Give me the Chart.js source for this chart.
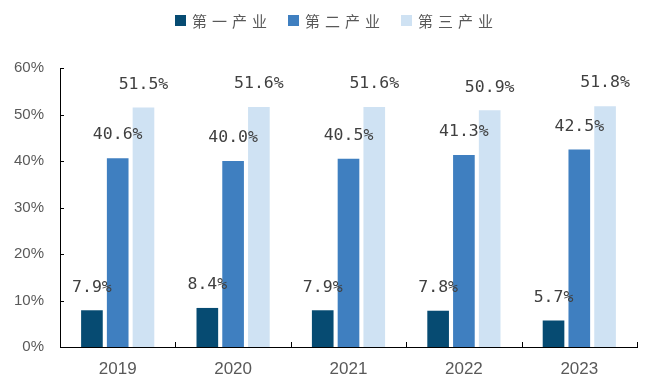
<!DOCTYPE html>
<html>
<head>
<meta charset="utf-8">
<script src="https://cdn.jsdelivr.net/npm/chart.js@4/dist/chart.umd.min.js"></script>
<style>
  html, body { margin: 0; padding: 0; background: #fff; }
  #wrap { position: relative; width: 651px; height: 383px; }
  #legend { position: absolute; top: 9px; left: 0; width: 651px; height: 22px; }
  .item { position: absolute; top: 0; height: 22px; display: flex; align-items: center;
          font-family: "Noto Sans CJK SC", sans-serif; font-size: 15px; color: #595959;
          letter-spacing: 5px; white-space: nowrap; }
  .sw { width: 11px; height: 11px; margin-right: 6px; }
</style>
</head>
<body>
<div id="wrap">
  <canvas id="c" width="651" height="383"></canvas>
  <div id="legend"></div>
</div>
<script>
// 三次产业增加值占比（%）
const years = ['2019', '2020', '2021', '2022', '2023'];
const seriesNames = ['第一产业', '第二产业', '第三产业'];
const primary = [7.9, 8.4, 7.9, 7.8, 5.7];
const secondary = [40.6, 40.0, 40.5, 41.3, 42.5];
const tertiary = [51.5, 51.6, 51.6, 50.9, 51.8];
const colors = ['#064b72', '#3f7fc0', '#cfe2f3'];

const legendX = [175, 288, 401];
const legendEl = document.getElementById('legend');
seriesNames.forEach((name, i) => {
  const it = document.createElement('div');
  it.className = 'item';
  it.style.left = legendX[i] + 'px';
  const sw = document.createElement('span');
  sw.className = 'sw';
  sw.style.background = colors[i];
  it.appendChild(sw);
  it.appendChild(document.createTextNode(name));
  legendEl.appendChild(it);
});

// value labels above each bar
const valueLabels = {
  id: 'valueLabels',
  afterDatasetsDraw(chart) {
    const ctx = chart.ctx;
    ctx.save();
    ctx.font = '16.5px "DejaVu Sans Mono", monospace';
    ctx.fillStyle = '#404040';
    ctx.textAlign = 'center';
    ctx.textBaseline = 'middle';
    chart.data.datasets.forEach((ds, di) => {
      chart.getDatasetMeta(di).data.forEach((bar, i) => {
        ctx.fillText(ds.data[i].toFixed(1) + '%', bar.x, bar.y - 23);
      });
    });
    ctx.restore();
  }
};

// short inward tick marks on both axes
const innerTicks = {
  id: 'innerTicks',
  afterDraw(chart) {
    const ctx = chart.ctx;
    const x = chart.scales.x, y = chart.scales.y;
    const a = chart.chartArea;
    ctx.save();
    ctx.strokeStyle = '#000';
    ctx.lineWidth = 1;
    ctx.beginPath();
    y.ticks.forEach((t, i) => {
      const py = Math.round(y.getPixelForTick(i)) + 0.5;
      ctx.moveTo(a.left, py); ctx.lineTo(a.left + 4, py);
    });
    for (let i = 1; i <= years.length; i++) {
      const px = Math.round(x.getPixelForValue(i - 0.5)) + 0.5;
      ctx.moveTo(px, a.bottom); ctx.lineTo(px, a.bottom - 5);
    }
    ctx.stroke();
    ctx.restore();
  }
};

new Chart(document.getElementById('c'), {
  type: 'bar',
  data: {
    labels: years,
    datasets: [primary, secondary, tertiary].map((d, i) => ({
      label: seriesNames[i],
      data: d,
      backgroundColor: colors[i],
      borderWidth: 0,
      categoryPercentage: 0.67,
      barPercentage: 0.84
    }))
  },
  options: {
    responsive: false,
    animation: false,
    layout: { padding: { top: 68, right: 14, bottom: 0, left: 0 } },
    plugins: { legend: { display: false }, tooltip: { enabled: false } },
    scales: {
      x: {
        offset: true,
        grid: { display: false, drawTicks: false },
        border: { display: true, color: '#000', width: 1 },
        ticks: { color: '#595959', padding: 12, font: { family: '"Liberation Sans", Arial, sans-serif', size: 17 } },
        afterFit(s) { s.height = 36; }
      },
      y: {
        min: 0, max: 60,
        grid: { display: false, drawTicks: false },
        border: { display: true, color: '#000', width: 1 },
        ticks: {
          stepSize: 10, color: '#595959', padding: 16,
          font: { family: '"Liberation Sans", Arial, sans-serif', size: 15 },
          callback: v => v + '%'
        },
        afterFit(s) { s.width = 60; }
      }
    }
  },
  plugins: [valueLabels, innerTicks]
});
</script>
</body>
</html>
